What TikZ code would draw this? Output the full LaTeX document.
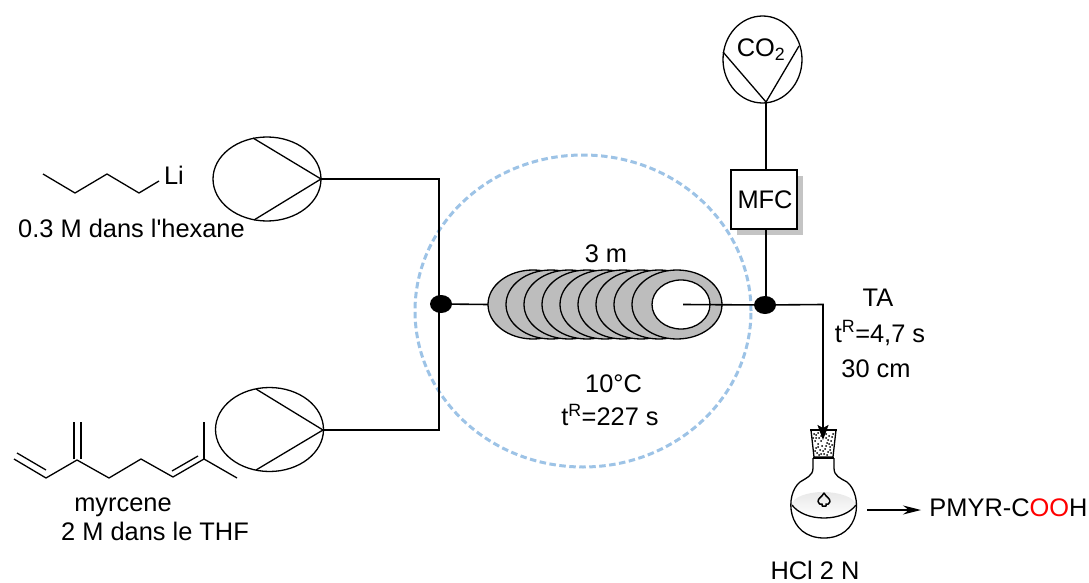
\documentclass[tikz,border=0pt]{standalone}
\usepackage{fontspec}
\newfontfamily\arialish{Liberation Sans}
\usetikzlibrary{shapes.geometric,arrows.meta}
\definecolor{coilgrey}{HTML}{BDBDBD}
\definecolor{shadowgrey}{HTML}{C4C4C4}
\definecolor{ringblue}{HTML}{9DC3E6}
\tikzset{
  lbl/.style={inner sep=0pt,font=\arialish\fontsize{25.4}{29}\selectfont,text=black},
  oval/.style={ellipse,draw=black,line width=1.3pt,inner sep=0pt,minimum width=#1},
  pumpbody/.style={oval=108pt,minimum height=84pt,fill=white},
  turn/.style={oval=90pt,minimum height=69pt,fill=coilgrey},
  bore/.style={oval=58pt,minimum height=49pt,fill=white},
  dot/.style={ellipse,fill=black,inner sep=0pt,minimum width=22pt,minimum height=18pt},
  pipe/.style={draw=black,line width=1.6pt},
  bond/.style={draw=black,line width=1.3pt},
  glass/.style={draw=black,line width=1.3pt,line join=round},
  headarrow/.style={-{Stealth[length=15pt,width=11pt,inset=3pt]}},
}
\begin{document}
\begin{tikzpicture}[x=1pt,y=-1pt]
\useasboundingbox (0,0) rectangle (1089,583);
% temperature ring
\node[ellipse,draw=ringblue,line width=3pt,dash pattern=on 6.5pt off 3.5pt,inner sep=0pt,minimum width=336pt,minimum height=312pt] (ring) at (583,311) {};
% coil
\foreach \k in {0,...,8} {
  \node[turn] (coil\k) at ({533+18*\k},304.5) {};
}
\node[bore] (bore) at (681,304.5) {};
% junctions and named corners
\node[dot] (jL) at (441,304) {};
\node[dot] (jR) at (765,305) {};
\coordinate (cornerA) at (439,179);
\coordinate (cornerB) at (439,430);
\coordinate (coilin) at (488,304.5);
\coordinate (coilout) at (683,304.5);
\coordinate (cornerC) at (823,304.5);
\coordinate (flaskin) at (823,440);
% pumps
\node[pumpbody] (pumpA) at (267,179) {};
\coordinate (tipA) at (321,179);
\coordinate (topA) at (253,138);
\coordinate (botA) at (254,220);
\draw[bond] (topA) -- (tipA) -- (botA);
\node[pumpbody] (pumpB) at (269.5,429.5) {};
\coordinate (tipB) at (323,430);
\coordinate (topB) at (256,389);
\coordinate (botB) at (256,470);
\draw[bond] (topB) -- (tipB) -- (botB);
\node[oval=79pt,minimum height=87pt] (gas) at (762.5,59.5) {};
\coordinate (tipG) at (766,102);
\coordinate (leftG) at (723,52);
\coordinate (rightG) at (799,46);
\draw[bond] (leftG) -- (tipG) -- (rightG);
% MFC
\fill[shadowgrey] (737,176) rectangle (803,235);
\node[draw=black,line width=1.3pt,fill=white,inner sep=0pt,minimum width=66pt,minimum height=59pt,lbl] (mfc) at (764,199.5) {\hspace{2pt}MFC};
% pipes
\draw[pipe] (tipA) -- (cornerA) -- (cornerB) -- (tipB);
\draw[pipe] (jL) -- (coilin);
\draw[pipe] (coilout) -- (jR);
\draw[pipe] (tipG) -- (tipG |- mfc.north);
\draw[pipe] (tipG |- mfc.south) -- (tipG |- jR);
\draw[pipe] (jR) -- (cornerC) -- (flaskin);
% flask
\shade[top color=black!9,bottom color=white] (792,505) .. controls (792,497) and (808,492) .. (823,492) .. controls (838,492) and (855,497) .. (856,505) .. controls (850,513) and (838,518) .. (824,518) .. controls (810,518) and (798,513) .. (792,505) -- cycle;
\draw[glass] (813,458) -- (813,468) .. controls (813,476) and (806,478) .. (800,482)
  .. controls (784,495) and (787,538) .. (824,538) .. controls (861,538) and (863,495) .. (847,482)
  .. controls (840,478) and (834,476) .. (834,468) -- (834,458);
\draw[glass] (792,505) .. controls (798,513) and (810,518) .. (824,518) .. controls (838,518) and (850,513) .. (856,505);
\draw[line width=1.5pt,line join=round] (824,493) .. controls (822,497) and (818,498) .. (818,501.5) .. controls (818,504) and (821,505) .. (822,504) -- (822,506) -- (826,506) -- (826,504) .. controls (827,505) and (830,504) .. (830,501.5) .. controls (830,498) and (826,497) .. (824,493) -- cycle;
% stopper
\draw[glass,fill=white] (811,430) -- (814,457) -- (833,457) -- (836,430) -- cycle;
\draw[glass] (813,458) -- (834,458);
\draw[black,line width=1.3pt] (810,430) -- (837,430);
\foreach \px/\py in {816/435,819/438,815/441,818/444,816/448,820/450,817/453,822/446,821/441,825/449,828/452,830/447,827/443,831/441,829/436,833/434,826/438,824/454,831/453,819/455,832/437,814/434,813/438,816/438,818/433,828/440,829/444,832/445,826/446,823/451,827/455,821/454,815/451,818/447,830/450,821/436,826/434}{
  \fill[black] (\px,\py) circle (1pt);
}
\draw[pipe,headarrow] (823,425) -- (flaskin);
% product arrow
\coordinate (prodstart) at (867,510);
\coordinate (prodend) at (921,510);
\draw[draw=black,line width=1.3pt,-{Stealth[length=18pt,width=9pt]}] (prodstart) -- (prodend);
% molecules
\draw[bond,line join=round] (43,174) -- (75,193) -- (107,174) -- (139,193) -- (159,181);
\draw[bond,line join=round] (14,459) -- (46,478) -- (77,460) -- (109,478) -- (141,459) -- (173,477) -- (204,459) -- (237,478);
\draw[bond] (17,453) -- (46,470);
\draw[bond] (74,459) -- (74,422);
\draw[bond] (81,459) -- (81,422);
\draw[bond] (204,459) -- (204,422);
\draw[bond] (172,471) -- (198,456);
% labels
\node[lbl] (li) at (174,175.5) {Li};
\node[lbl] (solA) at (131.5,228) {0.3 M dans l'hexane};
\node[lbl] (myr) at (123,507) {myrcene};
\node[lbl] (solB) at (155,531) {2 M dans le THF};
\node[lbl] (len) at (606,253.5) {3 m};
\node[lbl] (temp) at (613.5,384) {10°C};
\node[lbl] (tres) at (610,415) {t\textsuperscript{R}=227 s};
\node[lbl] (ta) at (878,297.5) {TA};
\node[lbl] (tresb) at (880,333) {t\textsuperscript{R}=4,7 s};
\node[lbl] (lenb) at (876,369) {30 cm};
\node[lbl] (hcl) at (815,570) {HCl 2 N};
\node[lbl] (co) at (761,50) {CO\textsubscript{2}};
\node[lbl] (prod) at (1008.5,508) {PMYR-C\textcolor{red}{OO}H};
\end{tikzpicture}
\end{document}
